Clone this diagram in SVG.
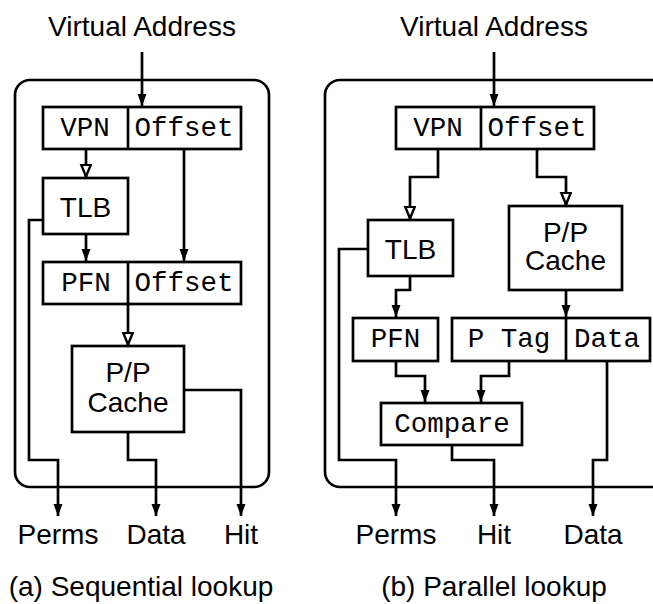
<svg xmlns="http://www.w3.org/2000/svg" width="653" height="604" viewBox="0 0 653 604">
<style>
.ln{fill:none;stroke:#000;stroke-width:2.7;stroke-linejoin:miter}
.bx{fill:#fff;stroke:#000;stroke-width:2.7}
.sans{font-family:"Liberation Sans",Arial,sans-serif;font-size:28px;fill:#000;text-anchor:middle}
.mono{font-family:"Liberation Mono","Courier New",monospace;font-size:27.5px;fill:#000;text-anchor:middle}
.fa{marker-end:url(#fa)}
.ha{marker-end:url(#ha)}
</style>
<defs>
<marker id="fa" markerUnits="userSpaceOnUse" markerWidth="14" markerHeight="12" refX="12" refY="5" orient="auto" viewBox="0 0 14 12">
<polygon points="0,0.5 12,5 0,9.5" fill="#000"/>
</marker>
<marker id="ha" markerUnits="userSpaceOnUse" markerWidth="18" markerHeight="14" refX="14" refY="6" orient="auto" viewBox="0 0 18 14">
<polygon points="1.2,1.2 13,6 1.2,10.8" fill="#fff" stroke="#000" stroke-width="2.4"/>
</marker>
</defs>

<!-- Panel A -->
<g id="a-frame"><rect x="15" y="80" width="254" height="407" rx="15" class="bx"/></g>
<g id="a-va"><text x="142" y="36" class="sans">Virtual Address</text></g>
<g id="a-vpn">
<rect x="43" y="107" width="198" height="42" class="bx"/>
<line x1="128" y1="107" x2="128" y2="149" class="ln"/>
<text x="85" y="136" class="mono">VPN</text>
<text x="184" y="136" class="mono">Offset</text>
</g>
<g id="a-tlb">
<rect x="43" y="178" width="85" height="56" class="bx"/>
<text x="85.5" y="216.5" class="sans">TLB</text>
</g>
<g id="a-pfn">
<rect x="43" y="262" width="198" height="42" class="bx"/>
<line x1="128" y1="262" x2="128" y2="304" class="ln"/>
<text x="86" y="290.5" class="mono">PFN</text>
<text x="184" y="290.5" class="mono">Offset</text>
</g>
<g id="a-cache">
<rect x="72" y="346" width="112" height="86" class="bx"/>
<text x="128" y="381.5" class="sans">P/P</text>
<text x="128" y="411.5" class="sans">Cache</text>
</g>
<g id="a-labels">
<text x="58" y="544" class="sans">Perms</text>
<text x="156" y="544" class="sans">Data</text>
<text x="241" y="544" class="sans">Hit</text>
<text x="141" y="596" class="sans">(a) Sequential lookup</text>
</g>
<g id="a-connectors">
<path d="M142,52 V106" class="ln fa"/>
<path d="M86,149 V177.5" class="ln ha"/>
<path d="M184,149 V261" class="ln fa"/>
<path d="M86,234 V261" class="ln fa"/>
<path d="M128,304 V345.5" class="ln ha"/>
<path d="M43,220 H29 V460 H58 V516" class="ln fa"/>
<path d="M128,432 V460 H156 V516" class="ln fa"/>
<path d="M184,390 H241 V516" class="ln fa"/>
</g>

<!-- Panel B -->
<g id="b-frame"><rect x="325" y="80" width="360" height="407" rx="15" class="bx"/></g>
<g id="b-va"><text x="494" y="36" class="sans">Virtual Address</text></g>
<g id="b-vpn">
<rect x="396" y="107" width="198" height="42" class="bx"/>
<line x1="481" y1="107" x2="481" y2="149" class="ln"/>
<text x="438" y="136" class="mono">VPN</text>
<text x="537" y="136" class="mono">Offset</text>
</g>
<g id="b-tlb">
<rect x="368" y="220" width="85" height="56" class="bx"/>
<text x="410.5" y="259" class="sans">TLB</text>
</g>
<g id="b-cache">
<rect x="509" y="206" width="113" height="84" class="bx"/>
<text x="565.5" y="241.5" class="sans">P/P</text>
<text x="565.5" y="270" class="sans">Cache</text>
</g>
<g id="b-pfn">
<rect x="353" y="318" width="85" height="43" class="bx"/>
<text x="395.5" y="346.5" class="mono">PFN</text>
</g>
<g id="b-ptag">
<rect x="452" y="318" width="198" height="43" class="bx"/>
<line x1="566" y1="318" x2="566" y2="361" class="ln"/>
<text x="509" y="346.5" class="mono">P Tag</text>
<text x="607" y="346.5" class="mono">Data</text>
</g>
<g id="b-compare">
<rect x="381" y="403" width="141" height="42" class="bx"/>
<text x="452" y="431.5" class="mono">Compare</text>
</g>
<g id="b-labels">
<text x="396" y="544" class="sans">Perms</text>
<text x="494" y="544" class="sans">Hit</text>
<text x="593" y="544" class="sans">Data</text>
<text x="494" y="596" class="sans">(b) Parallel lookup</text>
</g>
<g id="b-connectors">
<path d="M494,52 V106" class="ln fa"/>
<path d="M438,149 V177 H410 V219.5" class="ln ha"/>
<path d="M537,149 V177 H566 V205.5" class="ln ha"/>
<path d="M368,249 H339 V460 H396 V516" class="ln fa"/>
<path d="M410,276 V290 H396 V317" class="ln fa"/>
<path d="M566,290 V317" class="ln fa"/>
<path d="M396,361 V376 H425 V402" class="ln fa"/>
<path d="M509,361 V376 H481 V402" class="ln fa"/>
<path d="M607,361 V460 H593 V516" class="ln fa"/>
<path d="M452,445 V460 H494 V516" class="ln fa"/>
</g>
</svg>
